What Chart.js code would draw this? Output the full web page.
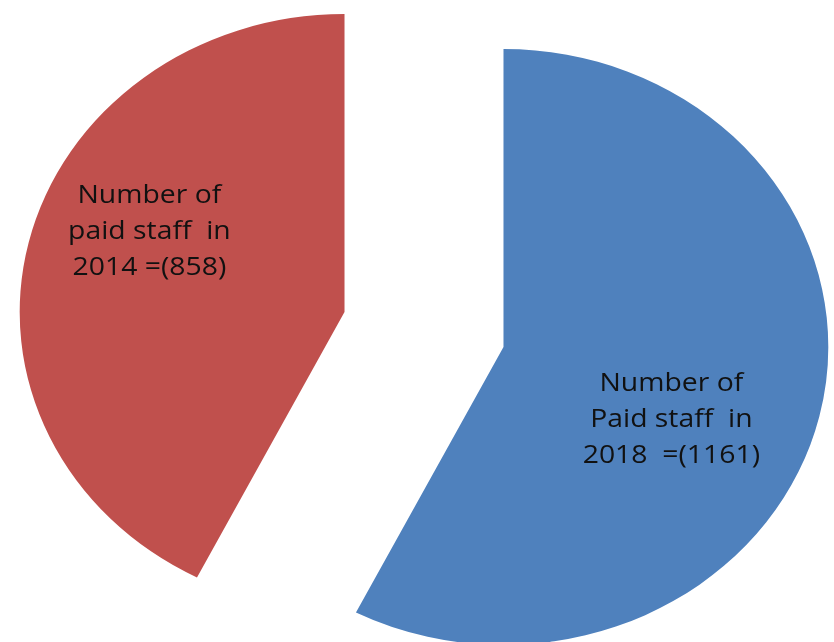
<!DOCTYPE html>
<html>
<head>
<meta charset="utf-8">
<script src="https://cdn.jsdelivr.net/npm/chart.js@4.4.0/dist/chart.umd.min.js"></script>
<style>
  html, body { margin: 0; padding: 0; background: #fff; }
  #wrap { width: 834px; height: 642px; }
</style>
</head>
<body>
<div id="wrap"><canvas id="pie-chart"></canvas></div>
<script>
// ***************************** 데이터 *****************************
const sliceNames = ['Number of Paid staff in 2018', 'Number of paid staff in 2014'];
const staffCount = [1161, 858];
const sliceLabelLines = [
  ['Number of', 'Paid staff  in', '2018  =(1161)'],
  ['Number of', 'paid staff  in', '2014 =(858)']
];
const sliceColors = ['#4F81BD', '#C0504D'];

// 원본 그림은 가로로 살짝 늘어나 있음
const stretchX = 1.09;
// 조각을 중심에서 밀어내는 거리 (px)
const explode = 75;
// 라벨 위치 (조각 꼭짓점 기준, 가운데 줄 기준선)
const labelShift = [[154, 80], [-179, -73]];

// 조각마다 따로 밀어내서 그리기 (Chart.js offset 은 각도/반지름을 바꿔버림)
const explodePlugin = {
  id: 'explode',
  beforeDatasetDraw(chart, args) {
    const ctx = chart.ctx;
    args.meta.data.forEach(arc => {
      const mid = (arc.startAngle + arc.endAngle) / 2;
      ctx.save();
      ctx.translate(arc.x, arc.y);
      ctx.scale(stretchX, 1);
      ctx.translate(Math.cos(mid) * explode, Math.sin(mid) * explode);
      ctx.translate(-arc.x, -arc.y);
      arc.draw(ctx);
      ctx.restore();
    });
    return false;
  },
  afterDraw(chart) {
    const ctx = chart.ctx;
    // 조각 안에 라벨 그리기
    const meta = chart.getDatasetMeta(0);
    meta.data.forEach((arc, i) => {
      const mid = (arc.startAngle + arc.endAngle) / 2;
      const vx = arc.x + (Math.cos(mid) * explode + labelShift[i][0]) * stretchX;
      const vy = arc.y + Math.sin(mid) * explode + labelShift[i][1];
      ctx.save();
      ctx.translate(vx, vy);
      ctx.scale(stretchX, 1);
      ctx.fillStyle = '#111';
      ctx.font = '26px "Open Sans", sans-serif';
      ctx.textAlign = 'center';
      ctx.textBaseline = 'alphabetic';
      sliceLabelLines[i].forEach((line, j) => {
        ctx.fillText(line, 0, (j - 1) * 36);
      });
      ctx.restore();
    });
  }
};

new Chart(document.getElementById('pie-chart'), {
  type: 'pie',
  data: {
    labels: sliceNames,
    datasets: [{
      data: staffCount,
      backgroundColor: sliceColors,
      borderWidth: 0
    }]
  },
  options: {
    responsive: true,
    maintainAspectRatio: false,
    animation: false,
    radius: 298,
    layout: { padding: { left: 14, top: 17, right: 0, bottom: 0 } },
    plugins: {
      legend: { display: false },
      tooltip: { enabled: false }
    }
  },
  plugins: [explodePlugin]
});
</script>
</body>
</html>
